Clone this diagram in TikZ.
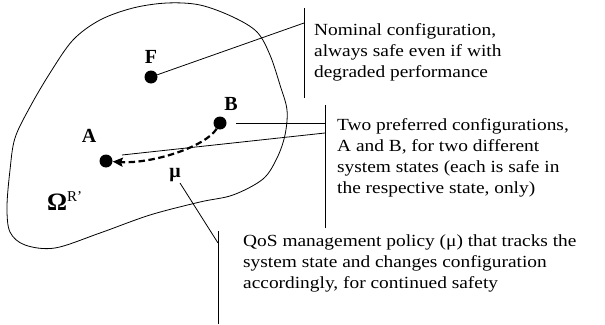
\documentclass[tikz,border=0pt]{standalone}
\usepackage{fontspec}
\setmainfont{Liberation Serif}
\newfontfamily\txtfont[FakeStretch=1.14]{Liberation Serif}
\usetikzlibrary{arrows.meta}
\begin{document}
\begin{tikzpicture}[x=1pt,y=-1pt,
  dot/.style={circle,fill=black,inner sep=0pt,minimum size=13pt},
  lbl/.style={font=\fontsize{20}{22}\selectfont\bfseries,inner sep=0pt,anchor=base},
  note/.style={font=\txtfont\fontsize{17}{21}\selectfont,align=left,anchor=north west,inner sep=0pt},
  lead/.style={line width=0.8pt},
  bar/.style={line width=0.9pt},
  move/.style={line width=2.2pt,dash pattern=on 6.5pt off 3.5pt,-{Stealth[length=10pt,width=9pt,inset=1.5pt]}}]
\useasboundingbox (0,0) rectangle (605,324);
% region
\draw[line width=0.8pt] plot[smooth cycle, tension=0.55] coordinates {
  (167,3) (200,5) (233,17) (257,32) (270,55) (280,85) (287,110) (285,135)
  (277,158) (263,179) (233,195) (200,202) (150,215) (100,233) (55,248)
  (25,245) (10,232) (7,207) (10,170) (15,138) (30,107) (50,73) (73,40)
  (100,20) (133,8)};
% points
\node[dot] (F) at (151,77) {};
\node[dot] (B) at (220,123) {};
\node[dot] (A) at (106,161) {};
\node[lbl] (Fl) at (151,63) {F};
\node[lbl] (Bl) at (231,110) {B};
\node[lbl] (Al) at (89,142) {A};
\node[lbl] (mu) at (175,177) {μ};
\node[lbl,anchor=base west,font=\fontsize{25}{26}\selectfont\bfseries] (om) at (47,210)
  {Ω\raisebox{9pt}{\fontsize{15}{15}\selectfont\mdseries R'}};
% policy arrow
\draw[move] (B.240) .. controls (205,147) and (152,164) .. (A.-5);
% callout bars
\coordinate (n1) at (304,8);  \coordinate (n2) at (304,98);
\coordinate (t1) at (325,105); \coordinate (t2) at (325,228);
\coordinate (q1) at (218,231); \coordinate (q2) at (218,324);
\draw[bar] (n1) -- (n2);
\draw[bar] (t1) -- (t2);
\draw[bar] (q1) -- (q2);
% leaders
\coordinate (fn) at (304,23);
\coordinate (bs) at (236,123); \coordinate (bn) at (325,123);
\coordinate (as) at (122,155); \coordinate (an) at (325,133);
\coordinate (ms) at (180,183); \coordinate (mn) at (218,243);
\draw[lead] (F) -- (fn);
\draw[lead] (bs) -- (bn);
\draw[lead] (as) -- (an);
\draw[lead] (ms) -- (mn);
% notes
\node[note] (nom) at (314,23.5) {Nominal configuration,\\always safe even if with\\degraded performance};
\node[note] (two) at (337,118.5) {Two preferred configurations,\\A and B, for two different\\system states (each is safe in\\the respective state, only)};
\node[note] (qos) at (243,235) {QoS management policy (μ) that tracks the\\system state and changes configuration\\accordingly, for continued safety};
\end{tikzpicture}
\end{document}
